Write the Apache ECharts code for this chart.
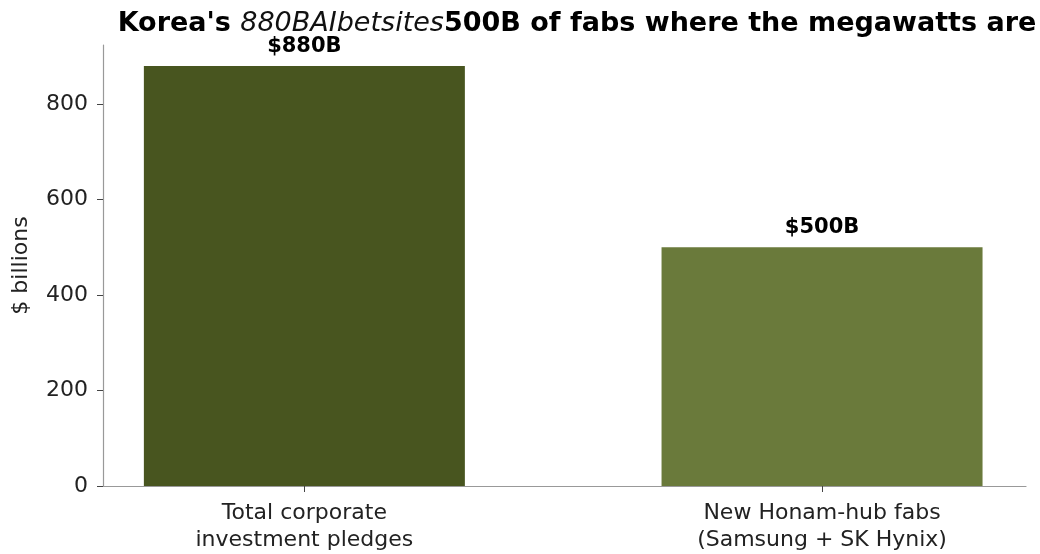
<!DOCTYPE html>
<html>
<head>
<meta charset="utf-8">
<script src="https://cdn.jsdelivr.net/npm/echarts@6/dist/echarts.min.js"></script>
<style>
  html, body { margin: 0; padding: 0; background: #fff; }
  #chart { width: 1040px; height: 554px; }
</style>
</head>
<body>
<div id="chart"></div>
<script>
// Categories and values (billions of US dollars)
const categories = [
  'Total corporate\ninvestment pledges',
  'New Honam-hub fabs\n(Samsung + SK Hynix)'
];
const values = [880, 500];
const valueLabels = ['$880B', '$500B'];
const barColors = ['#48551f', '#6a7a3b'];
const yTicks = [0, 200, 400, 600, 800];

const FONT = '"DejaVu Sans", sans-serif';
const chart = echarts.init(document.getElementById('chart'), null, { renderer: 'canvas' });

chart.setOption({
  backgroundColor: '#ffffff',
  animation: false,
  title: {
    text: "{b|Korea's }{i|880BAIbetsites}{b|500B of fabs where the megawatts are}",
    left: 572,
    textAlign: 'center',
    top: 5,
    textStyle: {
      rich: {
        b: { fontFamily: FONT, fontWeight: 'bold', fontSize: 27, color: '#000' },
        i: { fontFamily: FONT, fontStyle: 'italic', fontWeight: 'normal', fontSize: 27, color: '#111' }
      }
    }
  },
  grid: { left: 103, right: 14, top: 45, bottom: 68, containLabel: false },
  xAxis: {
    type: 'value',
    min: -0.389,
    max: 1.394,
    splitLine: { show: false },
    axisLine: { show: true, onZero: false, lineStyle: { color: '#999', width: 1.2 } },
    axisTick: { show: true, customValues: [0, 1], length: 6, lineStyle: { color: '#444' } },
    axisLabel: {
      customValues: [0, 1],
      formatter: v => categories[Math.round(v)],
      fontFamily: FONT,
      fontSize: 22,
      color: '#222',
      lineHeight: 27,
      margin: 14
    }
  },
  yAxis: {
    type: 'value',
    min: 0,
    max: 924,
    name: '$ billions',
    nameLocation: 'middle',
    nameGap: 71,
    nameRotate: 90,
    nameTextStyle: { fontFamily: FONT, fontSize: 22, color: '#222' },
    splitLine: { show: false },
    axisLine: { show: true, onZero: false, lineStyle: { color: '#999', width: 1.2 } },
    axisTick: { show: true, customValues: yTicks, length: 6, lineStyle: { color: '#444' } },
    axisLabel: {
      customValues: yTicks,
      fontFamily: FONT,
      fontSize: 22,
      color: '#222',
      margin: 15
    }
  },
  series: [{
    type: 'bar',
    barWidth: 321,
    data: values.map((v, i) => ({
      value: [i, v],
      itemStyle: { color: barColors[i] },
      label: { formatter: valueLabels[i] }
    })),
    label: {
      show: true,
      position: 'top',
      distance: 9,
      fontFamily: FONT,
      fontWeight: 'bold',
      fontSize: 21,
      color: '#000'
    }
  }]
});
</script>
</body>
</html>
